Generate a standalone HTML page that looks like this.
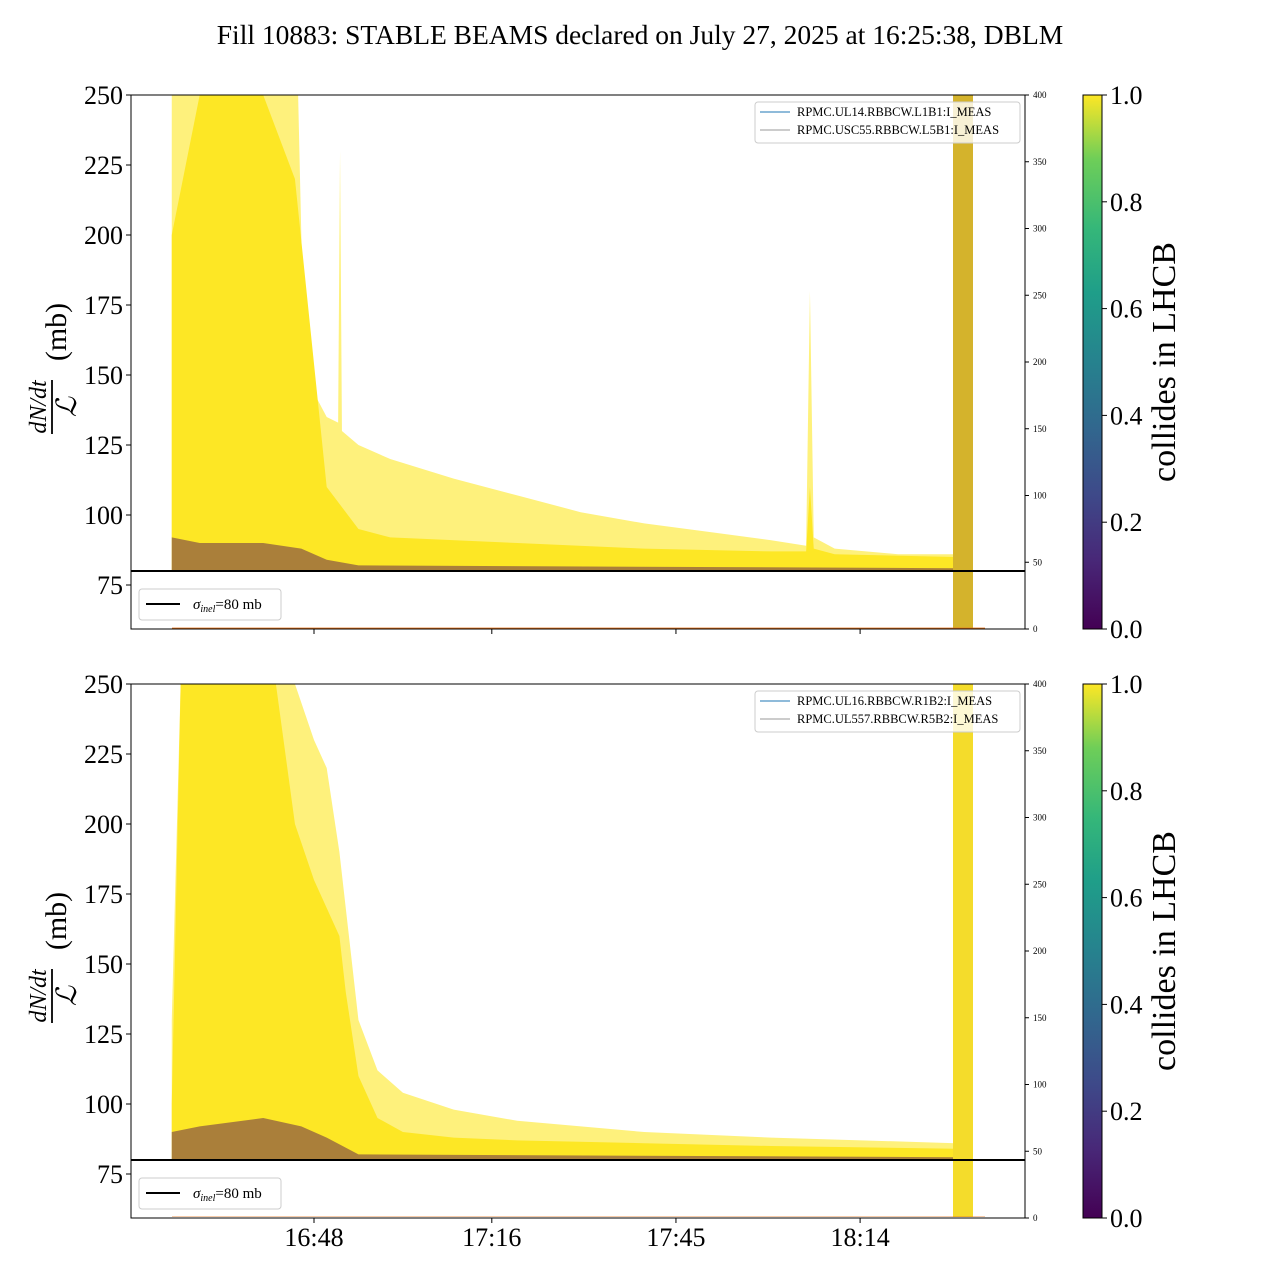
<!DOCTYPE html>
<html><head><meta charset="utf-8"><style>
body{margin:0;background:#fff;}
svg text{font-family:"Liberation Serif",serif;}
</style></head><body>
<svg width="1280" height="1280" viewBox="0 0 1280 1280" xmlns="http://www.w3.org/2000/svg">
<defs>
<linearGradient id="vir" x1="0" y1="1" x2="0" y2="0">
<stop offset="0" stop-color="#440154"/><stop offset="0.13" stop-color="#482878"/><stop offset="0.25" stop-color="#3e4989"/><stop offset="0.38" stop-color="#31688e"/><stop offset="0.5" stop-color="#26828e"/><stop offset="0.63" stop-color="#1f9e89"/><stop offset="0.75" stop-color="#35b779"/><stop offset="0.88" stop-color="#6ece58"/><stop offset="1" stop-color="#fde725"/>
</linearGradient>
<clipPath id="c0"><rect x="131" y="95" width="894" height="534"/></clipPath>
<clipPath id="c1"><rect x="131" y="684" width="894" height="533"/></clipPath>
</defs>
<text x="640" y="44" font-size="27.5" text-anchor="middle">Fill 10883: STABLE BEAMS declared on July 27, 2025 at 16:25:38, DBLM</text>
<g id="panels"></g>
</svg>
<script>
// data (minutes since 16:00, values in mb)
const tU = [25.6,30,38,45.5,46.5,50,51.8,52.1,52.4,55,60,70,80,90,100,110,120,125.5,126.1,126.7,130,140,149];
const topUpper = [250,250,250,250,150,135,133,230,130,125,120,113,107,101,97,94,91,89,180,92,88,86,86];
const tD = [25.6,30,40,45,50,55,60,80,100,120,125.5,126.1,126.7,130,149];
const topDense = [200,250,250,220,110,95,92,90,88,87,87,110,88,86,85];
const tP = [25.6,30,40,46,50,55,149];
const topPurple = [92,90,90,88,84,82,81];
const tU2 = [25.6,27,30,38,42,45,48,50,52,53,55,58,62,70,80,100,120,149];
const botUpper = [130,250,250,250,250,250,230,220,190,170,130,112,104,98,94,90,88,86];
const botDense = [100,250,250,250,250,200,180,170,160,140,110,95,90,88,87,86,85,84];
const botPurple = [90,92,95,92,88,82,81];
const leftTicks = [75,100,125,150,175,200,225,250];
const rightTicks = [0,50,100,150,200,250,300,350,400];
const cbTicks = ["0.0","0.2","0.4","0.6","0.8","1.0"];
const xTickTimes = [48,76,105,134];
const xTickLabels = ["16:48","17:16","17:45","18:14"];
const sigma = 80;
const legendTop = ["RPMC.UL14.RBBCW.L1B1:I_MEAS","RPMC.USC55.RBBCW.L5B1:I_MEAS"];
const legendBot = ["RPMC.UL16.RBBCW.R1B2:I_MEAS","RPMC.UL557.RBBCW.R5B2:I_MEAS"];

const NS="http://www.w3.org/2000/svg";
const root=document.getElementById('panels');
function mk(tag,attrs,parent,txt){const e=document.createElementNS(NS,tag);for(const k in attrs)e.setAttribute(k,attrs[k]);if(txt!==undefined)e.textContent=txt;(parent||root).appendChild(e);return e;}
const X=t=>314+(t-48)*6.35;

function panel(top,clip,upperT,upper,denseT,dense,purple,legend,bandColor,showX){
  const Y=v=>top+(250-v)*2.8;
  const YR=v=>top+534-v*534/400;
  const g=mk('g',{'clip-path':'url(#'+clip+')'});
  
  
  function area(ts,vs,fill,op,name){
    let d='M'+X(ts[0])+','+Y(sigma);
    ts.forEach((t,i)=>{d+=' L'+X(t)+','+Y(vs[i]);});
    d+=' L'+X(ts[ts.length-1])+','+Y(sigma)+' Z';
    const p=mk('path',{d:d,fill:fill,'fill-opacity':op},g);
    
    
  }
  area(upperT,upper,'#fde725',0.6,'yellow-envelope');
  area(denseT,dense,'#fde725',1,'yellow-dense-band');
  area(tP,purple,'#440154',0.45,'purple-band');
  const b=mk('rect',{x:953,y:top,width:20,height:534,fill:bandColor},g);
  
  
  const o=mk('line',{x1:172,x2:985,y1:YR(0.5),y2:YR(0.5),stroke:'#e8741a','stroke-width':1.5},g);
  
  
  const s=mk('line',{x1:131,x2:1025,y1:Y(sigma),y2:Y(sigma),stroke:'#000','stroke-width':2});
  
  
  const fr=mk('rect',{x:131,y:top,width:894,height:534,fill:'none',stroke:'#000','stroke-width':1});
  
  
  leftTicks.forEach(v=>{
    mk('line',{x1:126,x2:131,y1:Y(v),y2:Y(v),stroke:'#000'});
    const t=mk('text',{x:123,y:Y(v)+9,'font-size':26,'text-anchor':'end'},root,v);
    
    
  });
  rightTicks.forEach(v=>{
    mk('line',{x1:1025,x2:1029,y1:YR(v),y2:YR(v),stroke:'#000'});
    const t=mk('text',{x:1033,y:YR(v)+3,'font-size':9},root,v);
    
    
  });
  xTickTimes.forEach((tt,i)=>{
    mk('line',{x1:X(tt),x2:X(tt),y1:top+534,y2:top+539,stroke:'#000'});
    if(showX){const t=mk('text',{x:X(tt),y:top+562,'font-size':26,'text-anchor':'middle'},root,xTickLabels[i]);
      
      }
  });
  const yl=mk('g',{transform:'translate(58,'+(top+267)+') rotate(-90)'});
  
  
  mk('text',{x:-45,y:-12,'font-size':24,'font-style':'italic','text-anchor':'middle'},yl,'dN/dt');
  mk('line',{x1:-72,x2:-18,y1:-6,y2:-6,stroke:'#000','stroke-width':1.8},yl);
  mk('text',{x:-45,y:18,'font-size':28,'font-style':'italic','text-anchor':'middle'},yl,'ℒ');
  mk('text',{x:30,y:8,'font-size':30,'text-anchor':'middle'},yl,'(mb)');
  const lg=mk('g',{});
  
  
  mk('rect',{x:755,y:top+7,width:265,height:41,rx:3,fill:'#fff','fill-opacity':0.8,stroke:'#ccc'},lg);
  const cols=['#1f77b4','#999'];
  legend.forEach((n,i)=>{
    mk('line',{x1:760,x2:790,y1:top+17+i*18,y2:top+17+i*18,stroke:cols[i],'stroke-width':1},lg);
    mk('text',{x:797,y:top+21+i*18,'font-size':12.5},lg,n);
  });
  const l2=mk('g',{});
  
  
  mk('rect',{x:139,y:top+494,width:142,height:31,rx:3,fill:'#fff',stroke:'#ccc'},l2);
  mk('line',{x1:146,x2:180,y1:top+509,y2:top+509,stroke:'#000','stroke-width':2},l2);
  const st=mk('text',{x:193,y:top+514,'font-size':15},l2);
  mk('tspan',{'font-style':'italic'},st,'σ');
  mk('tspan',{'font-style':'italic','font-size':10,dy:3},st,'inel');
  mk('tspan',{dy:-3},st,'=80 mb');
  const cb=mk('rect',{x:1083,y:top,width:19,height:534,fill:'url(#vir)',stroke:'#000'});
  
  
  cbTicks.forEach((v,i)=>{
    const yy=top+534-i*534/5;
    mk('line',{x1:1102,x2:1107,y1:yy,y2:yy,stroke:'#000'});
    const t=mk('text',{x:1110,y:yy+9,'font-size':26},root,v);
    
    
  });
  const ct=mk('text',{x:0,y:0,'font-size':34,'text-anchor':'middle',transform:'translate(1175,'+(top+267)+') rotate(-90)'},root,'collides in LHCB');
  
  
}
panel(95,'c0',tU,topUpper,tD,topDense,topPurple,legendTop,'#d4b32c',false);
panel(684,'c1',tU2,botUpper,tU2,botDense,botPurple,legendBot,'#f4dc2b',true);
</script>
</body></html>
